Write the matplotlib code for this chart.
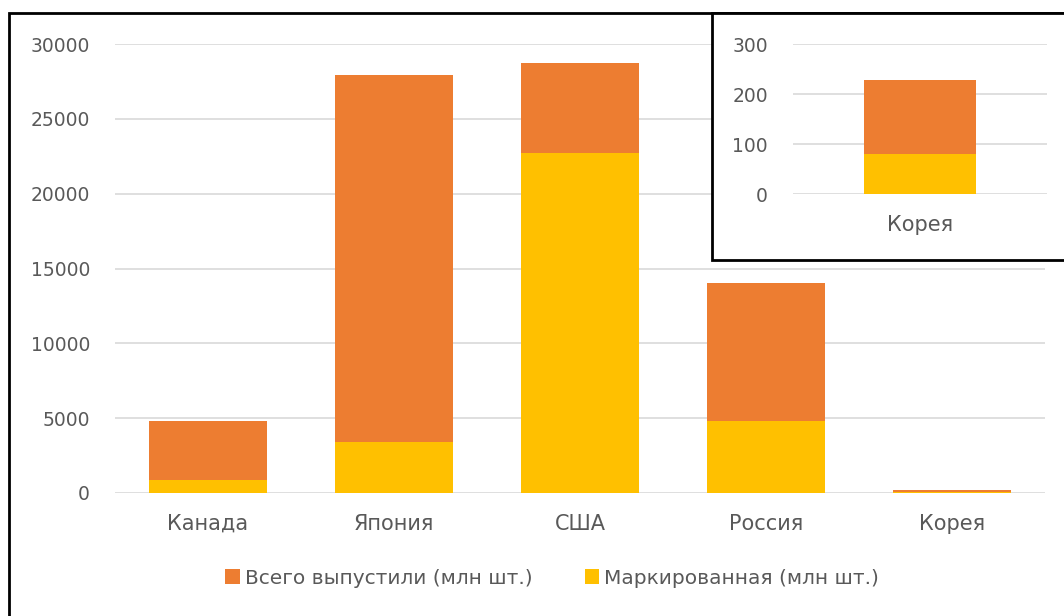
import matplotlib.pyplot as plt
from matplotlib.patches import Rectangle

# Data
countries = ["Канада", "Япония", "США", "Россия", "Корея"]
total = [4800, 27900, 28700, 14000, 228]        # Всего выпустили (млн шт.)
marked = [850, 3400, 22700, 4800, 80]            # Маркированная (млн шт.)
inset_country = ["Корея"]
inset_total = [228]
inset_marked = [80]

orange = "#ED7D31"
yellow = "#FFC000"
grey = "#595959"
grid_col = "#D9D9D9"

plt.rcParams['font.family'] = ['DejaVu Sans']

W, H = 1064, 616
fig = plt.figure(figsize=(W / 100, H / 100), dpi=100)


def box(l, t, r, b):
    # pixel box -> figure fraction [left, bottom, width, height]
    return [l / W, 1 - b / H, (r - l) / W, (b - t) / H]


# outer frame (right / bottom edges fall outside the picture)
fig.patches.append(Rectangle((9 / W, -0.1), 1.2, (H - 13) / H + 0.1,
                             transform=fig.transFigure, fill=False,
                             edgecolor="black", linewidth=2, zorder=0))

# main chart
ax = fig.add_axes(box(115, 44, 1045, 493))
x = range(len(countries))
b1 = ax.bar(x, total, width=0.63, color=orange, zorder=2, label="Всего выпустили (млн шт.)")
b2 = ax.bar(x, marked, width=0.63, color=yellow, zorder=3, label="Маркированная (млн шт.)")
ax.set_xlim(-0.5, len(countries) - 0.5)
ax.set_ylim(0, 30000)
ax.set_yticks(range(0, 30001, 5000))
ax.set_xticks(list(x))
ax.set_xticklabels(countries)
ax.grid(axis="y", color=grid_col, linewidth=1.2, zorder=0)
for s in ax.spines.values():
    s.set_visible(False)
ax.tick_params(length=0, colors=grey)
ax.tick_params(axis="y", pad=18, labelsize=13.5)
ax.tick_params(axis="x", pad=15, labelsize=15)

# legend
fig.legend(handles=[b1, b2], loc="center", bbox_to_anchor=(552 / W, 1 - 578 / H),
           ncol=2, frameon=False, fontsize=14.5, labelcolor=grey,
           handlelength=0.7, handleheight=0.7, handletextpad=0.25, columnspacing=2.6)

# inset box
fig.patches.append(Rectangle((712 / W, 1 - 260 / H), 0.5, (260 - 13) / H,
                             transform=fig.transFigure, facecolor="white",
                             edgecolor="black", linewidth=2, zorder=5))

ins = fig.add_axes(box(793, 44, 1047, 194))
ins.set_zorder(6)
ins.patch.set_alpha(0)
ins.bar([0], inset_total, width=0.44, color=orange, zorder=2)
ins.bar([0], inset_marked, width=0.44, color=yellow, zorder=3)
ins.set_xlim(-0.5, 0.5)
ins.set_ylim(0, 300)
ins.set_yticks([0, 100, 200, 300])
ins.set_xticks([0])
ins.set_xticklabels(inset_country)
ins.grid(axis="y", color=grid_col, linewidth=1.2, zorder=0)
for s in ins.spines.values():
    s.set_visible(False)
ins.tick_params(length=0, colors=grey)
ins.tick_params(axis="y", pad=18, labelsize=13.5)
ins.tick_params(axis="x", pad=15, labelsize=15)

fig.savefig("out.png", dpi=100)
